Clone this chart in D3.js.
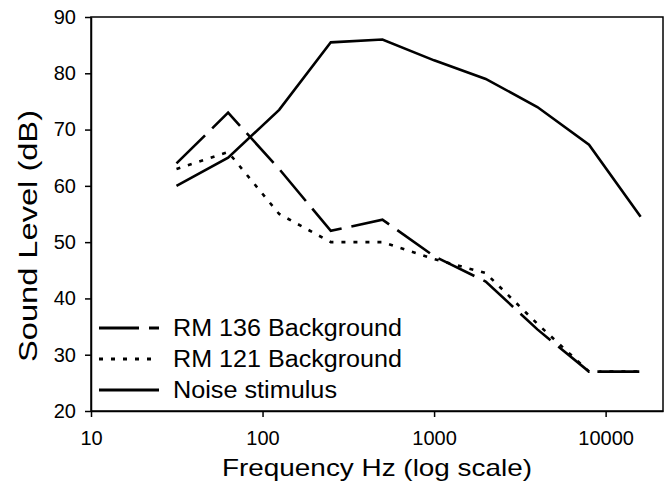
<!DOCTYPE html>
<html>
<head>
<meta charset="utf-8">
<script src="https://cdn.jsdelivr.net/npm/d3@7"></script>
<style>
  body { margin: 0; background: #fff; }
  text { font-family: "Liberation Sans", Arial, sans-serif; fill: #000; }
</style>
</head>
<body>
<script>
// octave band centre frequencies (Hz)
var freqs = [31.5, 63, 125, 250, 500, 1000, 2000, 4000, 8000, 16000];

// sound levels (dB)
var rm136 = [64, 73, 63, 52, 54, 47.5, 43, 34.5, 27, 27];
var rm121 = [63, 66, 55, 50, 50, 47, 44.5, 35.5, 27, 27];
var noise = [60, 65, 73.5, 85.5, 86, 82.3, 79, 74, 67.3, 54.5];

var xTicks = [10, 100, 1000, 10000];
var yTicks = [20, 30, 40, 50, 60, 70, 80, 90];

var seriesNames = ["RM 136 Background", "RM 121 Background", "Noise stimulus"];
var legendWidths = [229, 229, 164];
var dashes = ["40,10", "4,8", null];

var width = 665, height = 489;
var margin = {top: 17, right: 2, bottom: 78, left: 91};

var svg = d3.select("body")
            .append("svg")
            .attr("width", width)
            .attr("height", height);

var xScale = d3.scaleLog()
  .domain([10, 21600])
  .range([margin.left, width - margin.right]);

var yScale = d3.scaleLinear()
  .domain([20, 90])
  .range([height - margin.bottom, margin.top]);

// frame
svg.append("rect")
  .attr("x", margin.left)
  .attr("y", margin.top)
  .attr("width", width - margin.right - margin.left)
  .attr("height", height - margin.bottom - margin.top)
  .attr("fill", "none")
  .attr("stroke", "#000")
  .attr("stroke-width", 1.5);

// x-axis
var xAxis = svg.append("g")
  .attr("transform", "translate(0," + yScale(20) + ")")
  .call(d3.axisBottom(xScale).tickValues(xTicks).tickFormat(d3.format("d")).tickSize(6).tickSizeOuter(0));
xAxis.select(".domain").attr("stroke-width", 1.5);
xAxis.selectAll("line").attr("stroke-width", 1.5);
xAxis.selectAll("text")
  .attr("dy", "0")
  .attr("y", 34)
  .style("font-size", "20px");

// y-axis
var yAxis = svg.append("g")
  .attr("transform", "translate(" + margin.left + ",0)")
  .call(d3.axisLeft(yScale).tickValues(yTicks).tickSize(6).tickSizeOuter(0));
yAxis.select(".domain").attr("stroke-width", 1.5);
yAxis.selectAll("line").attr("stroke-width", 1.5);
yAxis.selectAll("text")
  .attr("x", -15)
  .style("font-size", "20px");

// axis titles
svg.append("text")
  .attr("x", 377)
  .attr("y", 476)
  .attr("text-anchor", "middle")
  .attr("textLength", 310)
  .attr("lengthAdjust", "spacingAndGlyphs")
  .style("font-size", "24px")
  .text("Frequency Hz (log scale)");

svg.append("text")
  .attr("transform", "translate(37,236) rotate(-90)")
  .attr("text-anchor", "middle")
  .attr("textLength", 252)
  .attr("lengthAdjust", "spacingAndGlyphs")
  .style("font-size", "25px")
  .text("Sound Level (dB)");

// lines
var allSeries = [rm136, rm121, noise];
var line = d3.line()
  .x(function(d, i) { return xScale(freqs[i]); })
  .y(function(d) { return yScale(d); });

allSeries.forEach(function(values, k) {
  svg.append("path")
    .datum(values)
    .attr("fill", "none")
    .attr("stroke", "#000")
    .attr("stroke-width", 2.6)
    .attr("stroke-dasharray", dashes[k])
    .attr("d", line);
});

// legend
var legend = svg.append("g");
seriesNames.forEach(function(name, k) {
  var ly = 328 + k * 31;
  legend.append("line")
    .attr("x1", 99)
    .attr("x2", 159)
    .attr("y1", ly)
    .attr("y2", ly)
    .attr("stroke", "#000")
    .attr("stroke-width", 3)
    .attr("stroke-dasharray", dashes[k]);
  legend.append("text")
    .attr("x", 173)
    .attr("y", ly)
    .attr("dy", "0.36em")
    .attr("textLength", legendWidths[k])
    .attr("lengthAdjust", "spacingAndGlyphs")
    .style("font-size", "23px")
    .text(name);
});
</script>
</body>
</html>
